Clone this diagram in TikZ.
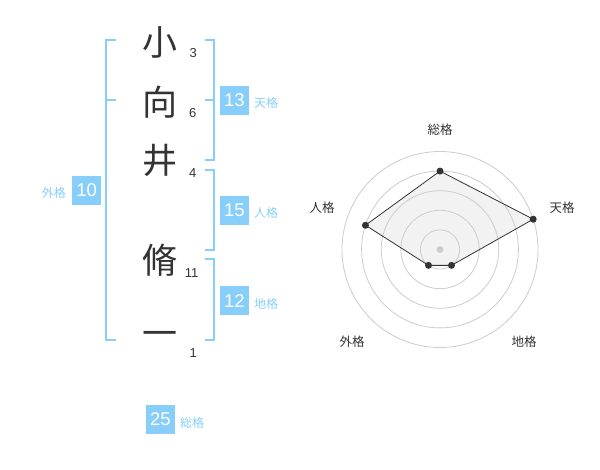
\documentclass[tikz,border=0pt]{standalone}
\usepackage{fontspec}
\usetikzlibrary{calc}
\setmainfont{Liberation Sans}
\newfontfamily\jp{Noto Sans CJK JP}
\definecolor{sky}{HTML}{87CEFA}
\definecolor{ink}{HTML}{333333}
\definecolor{ring}{HTML}{CCCCCC}
\definecolor{area}{HTML}{F2F2F2}
\tikzset{
  kanji/.style={inner sep=0pt, text=ink, font=\jp\fontsize{35}{35}\selectfont},
  strokes/.style={inner sep=0pt, text=ink, font=\fontsize{13}{13}\selectfont},
  numbox/.style={fill=sky, text=white, minimum width=29pt, minimum height=29pt, inner sep=0pt, font=\fontsize{18.5}{18.5}\selectfont},
  kaku/.style={inner sep=0pt, text=sky, font=\jp\fontsize{12}{12}\selectfont},
  bracket/.style={draw=sky, line width=2pt},
  ringline/.style={draw=ring, line width=0.8pt},
  axislabel/.style={inner sep=0pt, text=ink, font=\jp\fontsize{12.5}{12.5}\selectfont},
  pt/.style={circle, fill=ink, inner sep=0pt, minimum size=7pt},
}
\begin{document}
\begin{tikzpicture}[x=1pt,y=-1pt]
\useasboundingbox (0,0) rectangle (600,470);
% characters
\node[kanji] (c1) at (160,42) {小};
\node[kanji] (c2) at (160,102) {向};
\node[kanji] (c3) at (160,160) {井};
\node[kanji] (c4) at (160,260) {脩};
\node[kanji] (c5) at (160,339) {一};
% stroke counts
\node[strokes] (s1) at (193.3,53.3) {3};
\node[strokes] (s2) at (192.7,113.3) {6};
\node[strokes] (s3) at (192.7,173.3) {4};
\node[strokes] (s4) at (191.7,273.3) {11};
\node[strokes] (s5) at (193.3,353.3) {1};
% outer bracket (left)
\draw[bracket] (116,40) -- (106,40) -- (106,340) -- (116,340);
\draw[bracket] (106,100) -- (116,100);
% right brackets
\draw[bracket] (205,40) -- (214.3,40) -- (214.3,160) -- (205,160);
\draw[bracket] (205,100) -- (214.3,100);
\draw[bracket] (205,170) -- (214.3,170) -- (214.3,250) -- (205,250);
\draw[bracket] (205,259.5) -- (214.3,259.5) -- (214.3,340) -- (205,340);
% boxes and labels
\node[numbox] (b1) at (234.5,100.3) {13};
\node[kaku, anchor=west] (l1) at (254,103.3) {天格};
\node[numbox] (b2) at (234.5,210.3) {15};
\node[kaku, anchor=west] (l2) at (254,213.3) {人格};
\node[numbox] (b3) at (234.5,300.7) {12};
\node[kaku, anchor=west] (l3) at (254,303.7) {地格};
\node[numbox] (b4) at (86.7,190.3) {10};
\node[kaku, anchor=east] (l4) at (66,193.3) {外格};
\node[numbox] (b5) at (160.5,419.5) {25};
\node[kaku, anchor=west] (l5) at (180,422.5) {総格};
% radar chart
\coordinate (C) at (440,249.5);
\coordinate (pSou) at ($(C)+(-90:78.4)$);
\coordinate (pTen) at ($(C)+(-18:98)$);
\coordinate (pChi) at ($(C)+(54:19.6)$);
\coordinate (pGai) at ($(C)+(126:19.6)$);
\coordinate (pJin) at ($(C)+(-162:78.4)$);
\fill[area] (pSou) -- (pTen) -- (pChi) -- (pGai) -- (pJin) -- cycle;
\foreach \r in {19.6,39.2,58.8,78.4,98} {
  \draw[ringline] (C) circle[radius=\r];
}
\draw[draw=ink, line width=0.8pt] (pSou) -- (pTen) -- (pChi) -- (pGai) -- (pJin) -- cycle;
\fill[ring] (C) circle[radius=3.5];
\foreach \p in {pSou,pTen,pChi,pGai,pJin} {
  \node[pt] (d\p) at (\p) {};
}
\node[axislabel] (aSou) at (440,130) {総格};
\node[axislabel] (aTen) at (562,208) {天格};
\node[axislabel] (aJin) at (322,208) {人格};
\node[axislabel] (aGai) at (352,342) {外格};
\node[axislabel] (aChi) at (524,342) {地格};
\end{tikzpicture}
\end{document}
